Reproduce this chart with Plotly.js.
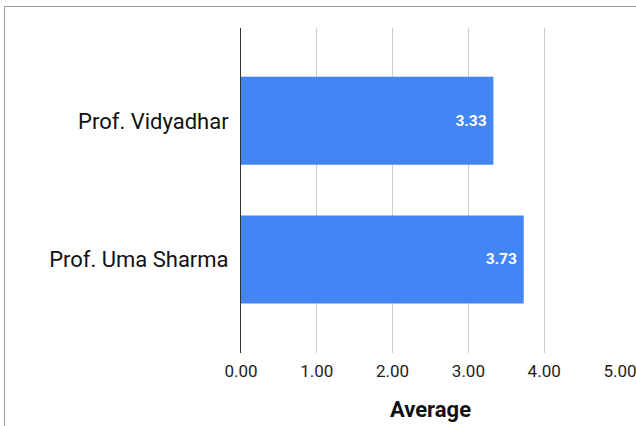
<!DOCTYPE html>
<html>
<head>
<meta charset="utf-8">
<script src="https://cdn.plot.ly/plotly-3.0.1.min.js"></script>
<style>
html,body{margin:0;padding:0;background:#fff;}
#frame{position:absolute;left:4px;top:6px;width:700px;height:500px;border-top:1px solid #9a9a9a;border-left:1px solid #9a9a9a;}
#chart{position:absolute;left:0;top:0;width:636px;height:426px;}
</style>
</head>
<body>
<div id="frame"></div>
<div id="chart"></div>
<script>
const categories = ["Prof. Vidyadhar", "Prof. Uma Sharma"];
const averages = [3.33, 3.73];
const xTicks = [0, 1, 2, 3, 4, 5];
const xTickLabels = ["0.00", "1.00", "2.00", "3.00", "4.00", "5.00"];

const trace = {
  type: "bar",
  orientation: "h",
  y: categories,
  x: averages,
  width: 0.635,
  marker: {color: "#4285f4"},
  text: averages.map(v => v.toFixed(2) + "\u00a0"),
  textposition: "inside",
  insidetextanchor: "end",
  constraintext: "none",
  textfont: {family: "Roboto", size: 15.5, color: "#ffffff", weight: "bold"},
  hoverinfo: "none"
};

const layout = {
  width: 636, height: 426,
  margin: {l: 241, r: 16, t: 28, b: 73},
  paper_bgcolor: "rgba(0,0,0,0)",
  plot_bgcolor: "rgba(0,0,0,0)",
  font: {family: "Roboto", color: "#222"},
  showlegend: false,
  xaxis: {
    range: [0, 5],
    tickvals: xTicks,
    ticktext: xTickLabels,
    showgrid: true,
    gridcolor: "#cccccc",
    gridwidth: 1,
    zeroline: false,
    showline: false,
    tickfont: {family: "Roboto", size: 17, color: "#222"},
    ticks: "",
    ticklabelstandoff: 6,
    ticklabeloverflow: "allow",
    title: {text: "Average", font: {family: "Roboto", size: 22, color: "#111", weight: "bold"}, standoff: 21}
  },
  yaxis: {
    type: "category",
    range: [1.675, -0.67],
    showgrid: false,
    zeroline: false,
    showline: true,
    linecolor: "#333333",
    linewidth: 1,
    ticks: "",
    ticklabelstandoff: 7,
    tickfont: {family: "Roboto", size: 22, color: "#111"}
  }
};

Plotly.newPlot("chart", [trace], layout, {displayModeBar: false, staticPlot: true});
</script>
</body>
</html>
